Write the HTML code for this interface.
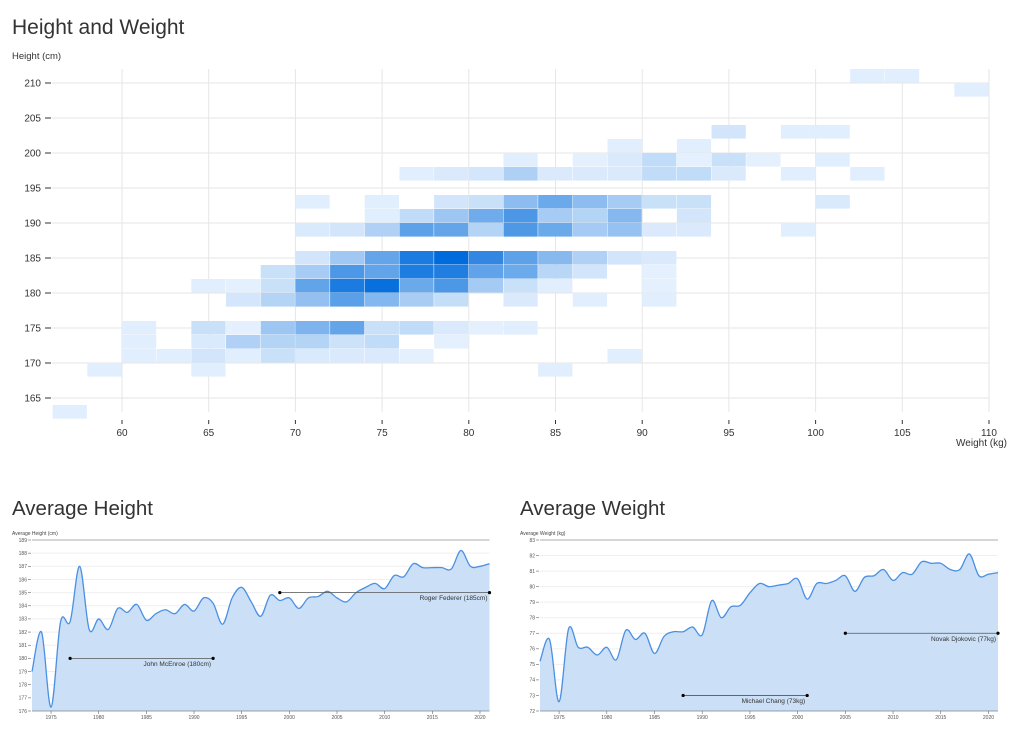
<!DOCTYPE html>
<html><head><meta charset="utf-8"><style>
html,body{margin:0;padding:0;background:#fff;width:1020px;height:737px;overflow:hidden}
svg{display:block;font-family:"Liberation Sans",sans-serif}
</style></head><body>
<svg id="s" width="1020" height="737" xmlns="http://www.w3.org/2000/svg">
<text x="12" y="34" font-size="21" fill="#333">Height and Weight</text>
<text x="12" y="59" font-size="9.5" fill="#333">Height (cm)</text>
<text x="12" y="515" font-size="20.5" fill="#333">Average Height</text>
<text x="520" y="515" font-size="20.5" fill="#333">Average Weight</text>
<g id="g"></g>
</svg>
<script>
var NS="http://www.w3.org/2000/svg",G=document.getElementById('g');
function el(t,a,txt){var e=document.createElementNS(NS,t);for(var k in a)e.setAttribute(k,a[k]);if(txt!==undefined)e.textContent=txt;G.appendChild(e);return e;}
function X(w){return 122+(w-60)*17.34;}
function Y(h){return 83+(210-h)*7;}
for(var w=60;w<=110;w+=5){var x=X(w);el('line',{x1:x,x2:x,y1:69,y2:412,stroke:'#e6e6e6','stroke-width':1});
el('line',{x1:x,x2:x,y1:420,y2:424,stroke:'#333','stroke-width':1});
el('text',{x:x,y:436,'font-size':10,'text-anchor':'middle',fill:'#333'},w);}
for(var h=165;h<=210;h+=5){var y=Y(h);el('line',{x1:52,x2:989,y1:y,y2:y,stroke:'#e6e6e6'});
el('line',{x1:45,x2:51,y1:y,y2:y,stroke:'#333'});
el('text',{x:41,y:y+3.5,'font-size':10,'text-anchor':'end',fill:'#333'},h);}
el('text',{x:1007,y:446,'font-size':10,'text-anchor':'end',fill:'#333'},'Weight (kg)');
var L='#e0eefd';
var cells={
210:{102:L,104:L},208:{108:L},202:{94:'#d2e5fb',98:L,100:L},200:{88:L,92:L},
198:{82:L,86:'#e4f0fd',88:'#daeafc',90:'#c0dcf8',92:'#e4f0fd',94:'#c8e0f8',96:'#e4f0fd',100:L},
196:{76:L,78:'#daeafc',80:'#d4e6fb',82:'#afd0f5',84:'#daeafc',86:'#daeafc',88:'#daeafc',90:'#c0dcf8',92:'#c0dcf8',94:'#daeafc',98:L,102:L},
192:{70:L,74:L,78:'#d2e5fb',80:'#c8e0f8',82:'#8dbcf0',84:'#6aaaeb',86:'#8dbcf0',88:'#a6cbf4',90:'#c8e0f8',92:'#c8e0f8',100:'#d9eafc'},
190:{74:L,76:'#c0dcf8',78:'#9ec6f3',80:'#70abec',82:'#4c97e6',84:'#a6cbf4',86:'#b4d4f6',88:'#85b8ef',92:'#d2e5fb'},
188:{70:'#d9eafc',72:'#d2e5fb',74:'#b0d1f5',76:'#5da1e9',78:'#64a5ea',80:'#b4d4f6',82:'#4e98e6',84:'#6aaaeb',86:'#a5caf4',88:'#96c2f1',90:'#daeafc',92:'#daeafc',98:L},
184:{70:'#d2e5fb',72:'#a0c8f3',74:'#64a5ea',76:'#1b7be0',78:'#006bdc',80:'#3386e2',82:'#5da1e9',84:'#87b9ef',86:'#b0d1f5',88:'#d2e5fb',90:'#daeafc'},
182:{68:'#c8e0f8',70:'#a6cbf4',72:'#4c97e6',74:'#61a4ea',76:'#1e7de0',78:'#1f7ee0',80:'#60a3ea',82:'#6cabeb',84:'#b8d7f7',86:'#d2e5fb',90:'#e4f0fd'},
180:{64:L,66:'#e4f0fd',68:'#c8e0f8',70:'#61a4ea',72:'#1b7be0',74:'#0870dd',76:'#6aaaeb',78:'#4d98e6',80:'#a5caf4',82:'#c8e0f8',84:L,90:'#e4f0fd'},
178:{66:'#d4e6fb',68:'#b4d4f6',70:'#93c0f1',72:'#5aa0e8',74:'#83b7ef',76:'#a8ccf4',78:'#c4def8',82:'#daeafc',86:L,90:L},
174:{60:L,64:'#c8e0f8',66:'#e4f0fd',68:'#9ec6f3',70:'#7eb3ee',72:'#64a5ea',74:'#c8e0f8',76:'#c0dcf8',78:'#daeafc',80:'#e4f0fd',82:L},
172:{60:L,64:'#d9eafc',66:'#b0d1f5',68:'#b4d4f6',70:'#b4d4f6',72:'#cce2f9',74:'#c0dcf8',78:'#e4f0fd'},
170:{60:L,62:L,64:'#d2e5fb',66:L,68:'#c8e0f8',70:'#d9eafc',72:'#daeafc',74:'#daeafc',76:'#e4f0fd',88:L},
168:{58:L,64:L,84:L},162:{56:L}};
for(var hh in cells)for(var ww in cells[hh]){el('rect',{x:X(+ww),y:Y(+hh+2),width:34.2,height:13.6,fill:cells[hh][ww]});}
function chart(o){
 var x0=o.x0,x1=o.x1,yt=540,yb=711,n=o.max-o.min,ph=(yb-yt)/n;
 function px(yr){return x0+(yr-1973)*(x1-x0)/48;}
 function py(v){return yb-(v-o.min)*ph;}
 for(var v=o.min;v<=o.max;v++){var y=py(v);
  el('line',{x1:x0,x2:x1,y1:y,y2:y,stroke:v==o.max?'#c8c8c8':'#efefef','stroke-width':v==o.max?1.5:1});
  el('line',{x1:x0-4,x2:x0-1,y1:y,y2:y,stroke:'#666','stroke-width':0.6});
  el('text',{x:x0-5,y:y+1.8,'font-size':5,'text-anchor':'end',fill:'#555'},v);}
 el('text',{x:o.lx,y:535,'font-size':5,fill:'#444'},o.label);
 var pts=o.d.map(function(v,i){return [px(1973+i),py(v)];});
 var d='M'+pts[0][0]+','+pts[0][1];
 for(var i=0;i<pts.length-1;i++){var p0=pts[Math.max(0,i-1)],p1=pts[i],p2=pts[i+1],p3=pts[Math.min(pts.length-1,i+2)];
  d+=' C'+(p1[0]+(p2[0]-p0[0])/6)+','+(p1[1]+(p2[1]-p0[1])/6)+' '+(p2[0]-(p3[0]-p1[0])/6)+','+(p2[1]-(p3[1]-p1[1])/6)+' '+p2[0]+','+p2[1];}
 el('path',{d:d+' L'+x1+','+yb+' L'+x0+','+yb+'Z',fill:'#cbdff6'});
 el('path',{d:d,fill:'none',stroke:'#4a90e2','stroke-width':1.3});
 el('line',{x1:x0,x2:x1,y1:yb,y2:yb,stroke:'#555','stroke-width':0.6});
 for(var yr=1975;yr<=2020;yr+=5){var x=px(yr);el('line',{x1:x,x2:x,y1:yb,y2:yb+3,stroke:'#666','stroke-width':0.6});
  el('text',{x:x,y:yb+8,'font-size':5,'text-anchor':'middle',fill:'#555'},yr);}
 o.ann.forEach(function(a){var y=py(a[2]),xa=px(a[0]),xb=px(a[1]);
  el('line',{x1:xa,x2:xb,y1:y,y2:y,stroke:'#555','stroke-width':0.8});
  el('circle',{cx:xa,cy:y,r:1.6,fill:'#000'});el('circle',{cx:xb,cy:y,r:1.6,fill:'#000'});
  el('text',{x:xb-2,y:y+7.5,'font-size':6.5,'text-anchor':'end',fill:'#333'},a[3]);});
}
chart({x0:32,x1:489.5,min:176,max:189,lx:12,label:'Average Height (cm)',
 d:[179,182,176.3,182.8,182.8,187,182.2,183,182.2,183.8,183.5,184.1,182.9,183.4,183.7,183.4,184.1,183.6,184.6,184.2,182.6,184.6,185.4,184.3,183.2,184.8,184.4,184.6,183.8,184.6,184.7,185.1,184.6,184.3,185.0,185.4,185.7,185.3,186.3,186.2,187.2,186.9,186.9,186.9,186.8,188.2,187.0,187.0,187.2],
 ann:[[1977,1992,180,'John McEnroe (180cm)'],[1999,2021,185,'Roger Federer (185cm)']]});
chart({x0:540,x1:998,min:72,max:83,lx:520,label:'Average Weight (kg)',
 d:[75.2,76.6,72.6,77.3,76.1,76.1,75.6,76.1,75.3,77.2,76.6,77.0,75.7,76.8,77.1,77.1,77.4,76.9,79.1,78.0,78.7,78.8,79.6,80.2,80.0,80.1,80.2,80.5,79.2,80.2,80.2,80.4,80.7,79.7,80.6,80.7,81.1,80.4,80.9,80.8,81.6,81.5,81.5,81.1,81.1,82.1,80.7,80.8,80.9],
 ann:[[1988,2001,73,'Michael Chang (73kg)'],[2005,2021,77,'Novak Djokovic (77kg)']]});
</script>
</body></html>
